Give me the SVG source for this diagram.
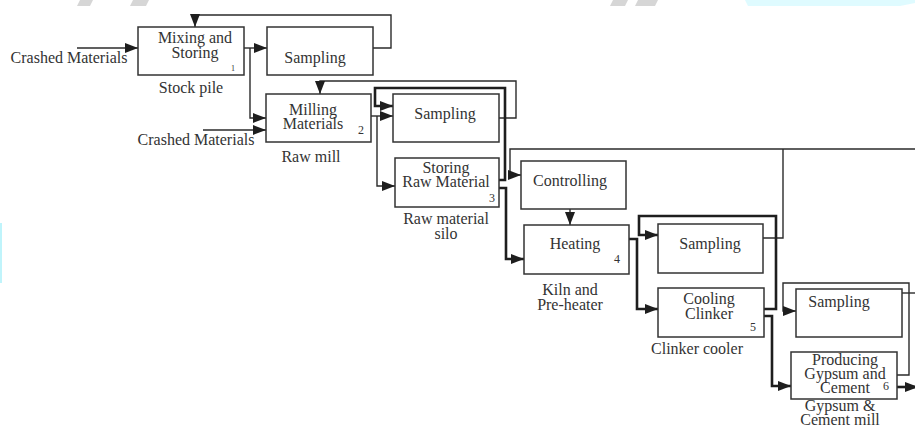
<svg xmlns="http://www.w3.org/2000/svg" width="915" height="429" viewBox="0 0 915 429">
<style>
.box{fill:#fff;stroke:#333;stroke-width:1.5}
.t{font-family:"Liberation Serif","Times New Roman",serif;font-size:16px;fill:#333;text-anchor:middle}
.n{font-size:12px}
.s{font-size:8px}
.w{fill:none;stroke:#2b2b2b;stroke-width:1.4}
.k{fill:none;stroke:#1e1e1e;stroke-width:2.6}
</style>
<defs>
<marker id="ah" markerUnits="userSpaceOnUse" markerWidth="14" markerHeight="10" refX="13" refY="5" orient="auto">
<path d="M0,0 L13,5 L0,10 z" fill="#1e1e1e"/>
</marker>
</defs>
<rect width="915" height="429" fill="#fff"/>
<!-- faint page decoration along the edges -->
<g id="decor" opacity="0.9">
<polygon points="80,0 93,0 90,6 77,6" fill="#d2d2d2"/>
<polygon points="133,0 149,0 146,6 130,6" fill="#d2d2d2"/>
<polygon points="613,0 628,0 625,6 610,6" fill="#d2d2d2"/>
<polygon points="638,0 658,0 655,6 635,6" fill="#d2d2d2"/>
<polygon points="745,0 915,0 915,3 900,6 748,6" fill="#dcfbff"/>
<rect x="0" y="223" width="2" height="60" fill="#b9f3fb"/>
</g>

<g id="connectors">
<!-- raw feed into stock pile -->
<path class="w" d="M77,48 H138" marker-end="url(#ah)"/>
<path class="w" d="M244,48 H267" marker-end="url(#ah)"/>
<path class="w" d="M250,48 V118 H266" marker-end="url(#ah)"/>
<path class="w" d="M373,48 H391 V15 H195 V27" marker-end="url(#ah)"/>
<!-- raw mill -->
<path class="w" d="M203,130 H266" marker-end="url(#ah)"/>
<path class="w" d="M499,118 H516 V81 H320 V94" marker-end="url(#ah)"/>
<path class="w" d="M371,116 H393" marker-end="url(#ah)"/>
<path class="w" d="M377,116 V186 H395" marker-end="url(#ah)"/>
<path class="k" d="M499,180 H505 V88 H375 V106 H393" marker-end="url(#ah)"/>
<!-- silo to kiln -->
<path class="k" d="M499,188 H506 V259 H524" marker-end="url(#ah)"/>
<path class="w" d="M763,238 H783 V149"/>
<path class="w" d="M915,149 H510 V175 H521" marker-end="url(#ah)"/>
<path class="w" d="M570,209 V225" marker-end="url(#ah)"/>
<!-- kiln and clinker cooler -->
<path class="k" d="M629,239 H637 V309 H658" marker-end="url(#ah)"/>
<path class="k" d="M764,309 H776 V216 H639 V235 H658" marker-end="url(#ah)"/>
<path class="k" d="M764,316 H772 V386 H791" marker-end="url(#ah)"/>
<!-- cement mill -->
<path class="w" d="M897,375 H909 V283 H783 V311 H796" marker-end="url(#ah)"/>
<path class="w" d="M902,293 H915"/>
<path class="k" d="M897,387 H918" marker-end="url(#ah)"/>
</g>

<g id="crashed-1"><text class="t" x="69" y="63">Crashed Materials</text></g>
<g id="crashed-2"><text class="t" x="196" y="145">Crashed Materials</text></g>

<g id="mixing">
<rect class="box" x="138" y="27" width="106" height="48"/>
<text class="t" x="195" y="43">Mixing and</text>
<text class="t" x="195" y="58">Storing</text>
<text class="t s" x="233" y="71">1</text>
<text class="t" x="191" y="93">Stock pile</text>
</g>

<g id="sampling-1">
<rect class="box" x="267" y="27" width="106" height="48"/>
<text class="t" x="315" y="63">Sampling</text>
</g>

<g id="milling">
<rect class="box" x="266" y="94" width="105" height="48"/>
<text class="t" x="313" y="115">Milling</text>
<text class="t" x="313" y="129">Materials</text>
<text class="t n" x="361" y="134">2</text>
<text class="t" x="311" y="162">Raw mill</text>
</g>

<g id="sampling-2">
<rect class="box" x="393" y="94" width="106" height="48"/>
<text class="t" x="445" y="119">Sampling</text>
</g>

<g id="storing">
<rect class="box" x="395" y="158" width="104" height="49"/>
<text class="t" x="446" y="173">Storing</text>
<text class="t" x="446" y="187">Raw Material</text>
<text class="t n" x="492" y="202">3</text>
<text class="t" x="446" y="224">Raw material</text>
<text class="t" x="446" y="239">silo</text>
</g>

<g id="controlling">
<rect class="box" x="521" y="161" width="105" height="48"/>
<text class="t" x="570" y="186">Controlling</text>
</g>

<g id="heating">
<rect class="box" x="524" y="225" width="105" height="49"/>
<text class="t" x="575" y="249">Heating</text>
<text class="t n" x="617" y="263">4</text>
<text class="t" x="570" y="295">Kiln and</text>
<text class="t" x="570" y="310">Pre-heater</text>
</g>

<g id="sampling-3">
<rect class="box" x="658" y="224" width="105" height="49"/>
<text class="t" x="710" y="249">Sampling</text>
</g>

<g id="cooling">
<rect class="box" x="658" y="288" width="106" height="49"/>
<text class="t" x="709" y="304">Cooling</text>
<text class="t" x="709" y="319">Clinker</text>
<text class="t n" x="753" y="331">5</text>
<text class="t" x="697" y="354">Clinker cooler</text>
</g>

<g id="sampling-4">
<rect class="box" x="796" y="289" width="106" height="48"/>
<text class="t" x="839" y="307">Sampling</text>
</g>

<g id="producing">
<rect class="box" x="791" y="352" width="106" height="47"/>
<text class="t" x="845" y="365">Producing</text>
<text class="t" x="845" y="379">Gypsum and</text>
<text class="t" x="845" y="393">Cement</text>
<text class="t n" x="886" y="390">6</text>
<text class="t" x="840" y="411">Gypsum &amp;</text>
<text class="t" x="840" y="425">Cement mill</text>
</g>
</svg>
